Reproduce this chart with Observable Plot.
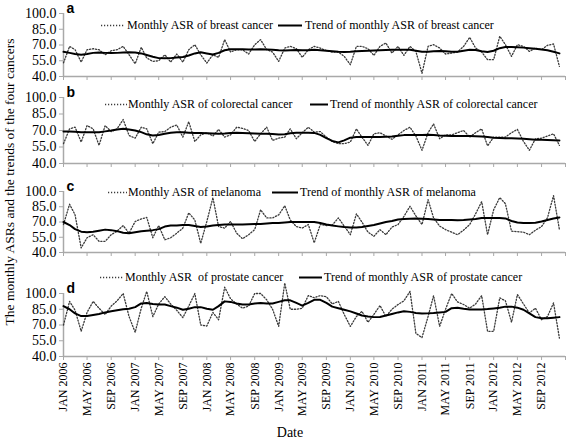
<!DOCTYPE html>
<html><head><meta charset="utf-8">
<script src="https://cdn.jsdelivr.net/npm/d3@7"></script>
<script src="https://cdn.jsdelivr.net/npm/@observablehq/plot@0.6"></script>
<style>
body{margin:0;background:#fff;}
#chart{position:relative;width:567px;height:440px;font-family:"Liberation Serif","Times New Roman",serif;color:#000;overflow:hidden;}
#chart svg.plot{position:absolute;left:0;overflow:visible;}
.lg{position:absolute;font-size:12px;white-space:pre;line-height:14px;height:14px;}
.lg span{position:absolute;top:0;}
.lg svg{position:absolute;top:0;}
</style></head><body><div id="chart"></div>
<script>
// ---------- data ----------
const panelLetters = ["a", "b", "c", "d"];
const monthlyLabels = ["Monthly ASR of breast cancer", "Monthly ASR of colorectal cancer", "Monthly ASR of melanoma", "Monthly ASR  of prostate cancer"];
const trendLabels = ["Trend of monthly ASR of breast cancer", "Trend of monthly ASR of colorectal cancer", "Trend of monthly ASR of melanoma", "Trend of monthly ASR of prostate cancer"];
const yTicks = [40, 55, 70, 85, 100];
const xTickLabels = ["JAN 2006","MAY 2006","SEP 2006","JAN 2007","MAY 2007","SEP 2007","JAN 2008","MAY 2008","SEP 2008","JAN 2009","MAY 2009","SEP 2009","JAN 2010","MAY 2010","SEP 2010","JAN 2011","MAY 2011","SEP 2011","JAN 2012","MAY 2012","SEP 2012"];
const yTitle = "The monthly ASRs and the trends of the four cancers";
const xTitle = "Date";

const breastMonthly = [53,68.7,65.5,53.7,65.5,66.5,65.5,60.7,64.6,65.5,68.7,60.7,52.1,67.8,57.6,54.4,55,60.7,53.7,61.4,53.7,65.5,70.3,60.7,52.8,60.7,58.2,75.1,63.3,65.5,65.5,61.4,70.3,75.1,65.5,63.3,54.4,67.1,68.7,66.5,58.2,65.5,68.7,67,64.6,63.3,63.3,59.2,51.2,68.7,68.7,66.5,60.1,68.7,71.9,62.3,68.7,60.1,68.7,63.9,43,68.7,70.3,67.1,61.4,62.3,63.3,68.7,77.3,67.1,63.3,56,56,78.3,70.3,59.2,70.3,68.7,63.9,67.1,65.5,69.7,71,49.6];
const breastTrend = [63.5,62.5,61.5,60.8,61.5,62.5,62.8,62.5,62.3,62.5,62.8,63,62.8,62,60.5,58.8,57.5,57.3,57.5,58,58.5,60,62,63,62,61,62.5,65,66,66,66,65.8,65.8,66,65.8,65.5,65,64.8,65,65.2,65,65,65.5,65,64.5,64,63.5,63.3,63.5,64,64.3,64.5,64.8,65,65.3,65.5,65.5,65.5,65.5,64.5,63.5,63.5,64,64.3,64,63.5,63.5,64.5,65.5,65.3,64,63.3,64.5,67,68,68,67.8,67.5,67,66.5,65.8,65,63.5,62];
const colorectalMonthly = [58,71.5,73,59.5,74.5,71.5,56.5,74.5,69,71.5,80,65.5,63,73,71.5,58,68.5,69,73,75,64,78,60,66,68,65,71,64,66,73,72,70,60,67,73,61,63,64,71.5,62.5,68,73,68.5,69,64,60,58,58,59.5,71.5,64,56.5,67,68,65,62,66,70,73,65,52,68,76,62.5,66,66,68,70,64,68,71.5,56,64,64,64,68,71,60,52,62.5,63,65,67,56.5];
const colorectalTrend = [69,69,68.8,68.5,68.3,68.3,68.5,69.2,70,71,71.5,71,70,68.5,66.5,65.5,66,67,68,68.3,68.3,68,67.8,67.7,67.5,67.2,67,67.2,67.8,68,67.8,67.5,67.2,67,67,66.8,66.3,66.5,67.5,68,68,68,67.8,66,63,60.5,59.2,61,63.5,64,64,64,64,64.2,64.3,64.5,65.2,65.8,66,66,66,66.2,66,65.5,65.2,65,65,65,65,64.8,64.5,64,63.5,63.2,63,63,62.8,62.5,62,61.5,61.5,61.3,61.2,61];
const melanomaMonthly = [67.5,87.5,77,44.5,54.5,57.5,51,51,57.5,61,66.5,59,70.5,73,74.5,54.5,66.5,52.5,54.5,59,64,79,72,49,70.5,94,65.5,64,70.5,59,53.5,57.5,62.5,82,74,74,77,86,72,65.5,64,67.5,49.5,67.5,66.5,67,74,66,57.5,78,70,60,56,62.5,57.5,65,67.5,75.5,85.5,76,67.5,92,74,66,62.5,60,57.5,62,67.5,78,90,57.5,82,94,88,61,60.5,60,57.5,62,65.5,74,96,62.5];
const melanomaTrend = [70,67,63,60.5,60,60.5,61.5,62.5,62,61,59.5,59,60,61,61.5,62,63,65.5,66.5,66.5,67,67,66,65,65.5,66.5,67,67.5,67.5,67.5,67.5,67.8,68,68,68.5,69,69,69.5,70,70,70,70,70,69,67.5,66.5,65.7,65,64.7,64.5,65,66,67,68.5,70,71,72.5,73,73.3,73.5,73.3,73,72.5,72,72,72,71.8,72,72.5,73,74,74,74,74,73.5,71,69.5,69,69,69.3,70.5,72,73.5,74.5];
const prostateMonthly = [70,92.5,84,64,82,92.5,86,80,88,93,100,78,63,86,102,78,90,97,90,84,77,88,100,70,69,82,75,106,95,90,86,88,100,100,94,85,68.7,110,85,85,86,98,96,98,97,90,92.5,80,68.7,78,83,72.6,80,88.5,78.3,85,89.5,93,102,62,58,78,98,68.7,85,100,92,89.5,86,90,98,64,64,95.9,93,72.6,99,90,81.5,86,75,78,91,57.6];
const prostateTrend = [88,85,81,78.5,78.5,79.5,80.5,82,83,84,85,85.5,87,90.5,91,90,89.5,89.5,88,86.5,84.5,85.5,87,87,85.5,84.5,88,92.5,92,90.5,89.5,89.5,90.5,91,90.5,90.5,92,93.5,93.5,91,88.5,91,94,94,91,87.5,86,84.5,83,81,79,78,77.5,77.7,79,80.5,82,83,82.5,81.5,81,81.2,81.5,82,82.5,86,86.5,85.5,84.7,84.7,84.8,85.2,85.8,86.5,87.5,87.5,86.5,84.5,81,77.5,76.5,76.5,77,77.5];

const monthlySeries = [breastMonthly, colorectalMonthly, melanomaMonthly, prostateMonthly];
const trendSeries = [breastTrend, colorectalTrend, melanomaTrend, prostateTrend];

// ---------- layout (pixels) ----------
const layout = [
  {top: 0,   mt: 13, ph: 63, mb: 4,  lg: {y: 25,  d: [101, 125], t1: 127, s: [278, 302], t2: 305}},
  {top: 84,  mt: 13, ph: 66, mb: 4,  lg: {y: 104, d: [105, 127], t1: 128, s: [310, 328], t2: 330}},
  {top: 178, mt: 13, ph: 61, mb: 4,  lg: {y: 192, d: [108, 127], t1: 128, s: [272, 298], t2: 300}},
  {top: 265, mt: 28, ph: 63, mb: 84, lg: {y: 277, d: [100, 124], t1: 125, s: [299, 322], t2: 324}}
];

const parseLabel = d3.utcParse("%b %Y");
const labelDates = xTickLabels.map(parseLabel);
const xStart = new Date(Date.UTC(2006, 0, 1));
const xEnd = new Date(Date.UTC(2013, 0, 1));
const months = d3.utcMonths(xStart, xEnd);      // 84 monthly categories
const tickDates = labelDates.concat([xEnd]);
const labelByTime = new Map(labelDates.map((d, i) => [+d, xTickLabels[i]]));

const axisGray = "#a9a9a9";
const dotStroke = "#3a3a3a";
const dotDash = "1.2,1.8";
const chart = document.getElementById("chart");

panelLetters.forEach((letter, k) => {
  const L = layout[k];
  const last = k === panelLetters.length - 1;
  const data = months.map((d, i) => ({date: d, monthly: monthlySeries[k][i], trend: trendSeries[k][i]}));
  const svg = Plot.plot({
    width: 567,
    height: L.mt + L.ph + L.mb,
    marginLeft: 63, marginRight: 2, marginTop: L.mt, marginBottom: L.mb,
    style: {fontFamily: "'Liberation Serif', 'Times New Roman', serif", fontSize: "13px", color: "#000", background: "transparent", overflow: "visible"},
    x: {type: "utc", domain: [xStart, xEnd], label: null},
    y: {domain: [40, 100], label: null},
    marks: [
      Plot.axisY({ticks: yTicks, tickFormat: d => d.toFixed(1), tickSize: 4, tickPadding: 3, stroke: axisGray, fill: "#000", fontSize: 14, label: null}),
      Plot.axisX({ticks: tickDates, tickSize: 4, tickPadding: 2, stroke: axisGray, fill: "#000", fontSize: 12,
                  tickRotate: last ? -90 : 0,
                  tickFormat: last ? (d => labelByTime.get(+d) ?? "") : (() => ""), label: null}),
      Plot.ruleX([xStart], {stroke: axisGray, strokeWidth: 1.5}),
      Plot.ruleY([40], {stroke: axisGray, strokeWidth: 1.5}),
      Plot.line(data, {x: "date", y: "monthly", stroke: dotStroke, strokeWidth: 1.3, strokeDasharray: dotDash}),
      Plot.line(data, {x: "date", y: "trend", stroke: "#000", strokeWidth: 2}),
      Plot.text([letter], {x: () => xStart, y: () => 100, text: d => d, textAnchor: "start", lineAnchor: "bottom", dx: 3, dy: -1,
                           fontFamily: "'Liberation Sans', Arial, sans-serif", fontWeight: "bold", fontSize: 14, fill: "#000"})
    ]
  });
  svg.classList.add("plot");
  svg.style.top = L.top + "px";
  chart.appendChild(svg);

  // legend
  const g = L.lg;
  const lg = document.createElement("div");
  lg.className = "lg";
  lg.style.left = "0px";
  lg.style.top = (g.y - 7) + "px";
  lg.style.width = "567px";
  lg.innerHTML =
    `<svg width="567" height="14" style="left:0"><line x1="${g.d[0]}" x2="${g.d[1]}" y1="7.5" y2="7.5" stroke="${dotStroke}" stroke-width="1.3" stroke-dasharray="${dotDash}"/>` +
    `<line x1="${g.s[0]}" x2="${g.s[1]}" y1="7.5" y2="7.5" stroke="#000" stroke-width="2"/></svg>` +
    `<span style="left:${g.t1}px"></span><span style="left:${g.t2}px"></span>`;
  const spans = lg.querySelectorAll("span");
  spans[0].textContent = monthlyLabels[k];
  spans[1].textContent = trendLabels[k];
  chart.appendChild(lg);
});

// axis titles
const yt = document.createElement("div");
yt.textContent = yTitle;
Object.assign(yt.style, {position: "absolute", left: "10px", top: "182px", fontSize: "13.5px", whiteSpace: "nowrap",
  transform: "translate(-50%, -50%) rotate(-90deg)", lineHeight: "16px"});
chart.appendChild(yt);

const xt = document.createElement("div");
xt.textContent = xTitle;
Object.assign(xt.style, {position: "absolute", left: "290px", top: "433px", fontSize: "14px", whiteSpace: "nowrap",
  transform: "translate(-50%, -50%)", lineHeight: "16px"});
chart.appendChild(xt);
</script></body></html>
